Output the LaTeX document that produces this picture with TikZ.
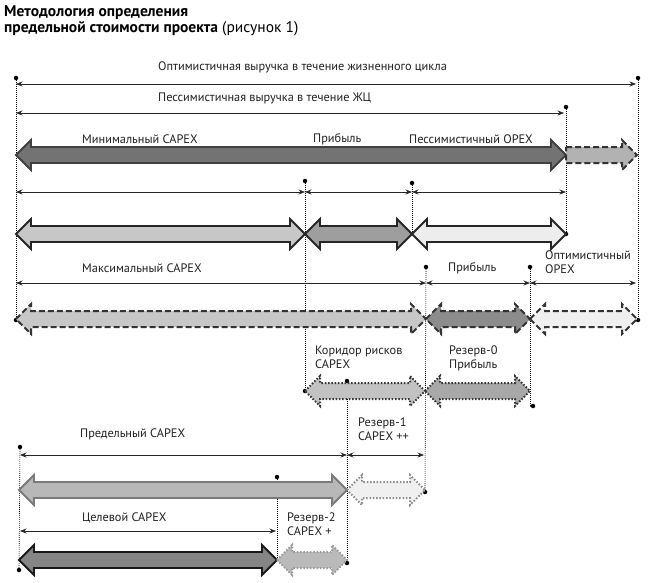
\documentclass[tikz,border=0pt]{standalone}
\usepackage{fontspec}
\setmainfont{PT Sans}
\usetikzlibrary{arrows.meta}
\newcommand\ahl{15}
\newcommand\ahh{15}
\newcommand\ash{8}
\newcommand\fatdbl[4]{\draw[#1] (#2,#4) -- ({#2+\ahl},{#4-\ahh}) -- ({#2+\ahl},{#4-\ash}) -- ({#3-\ahl},{#4-\ash}) -- ({#3-\ahl},{#4-\ahh}) -- (#3,#4) -- ({#3-\ahl},{#4+\ahh}) -- ({#3-\ahl},{#4+\ash}) -- ({#2+\ahl},{#4+\ash}) -- ({#2+\ahl},{#4+\ahh}) -- cycle;}
\newcommand\fatsgl[4]{\draw[#1] (#2,{#4-\ash}) -- ({#3-\ahl},{#4-\ash}) -- ({#3-\ahl},{#4-\ahh}) -- (#3,#4) -- ({#3-\ahl},{#4+\ahh}) -- ({#3-\ahl},{#4+\ash}) -- (#2,{#4+\ash}) -- cycle;}
\definecolor{txt}{HTML}{222222}
\tikzset{
  lbl/.style={font=\fontsize{12.3}{14}\selectfont, text=txt, inner sep=0pt, anchor=west},
  lbl2/.style={font=\fontsize{12.3}{14}\selectfont, text=txt, inner sep=0pt, anchor=north west, align=left},
  dim/.style={line width=0.7pt, black!85, {Stealth[length=6.5pt,width=5pt]}-{Stealth[length=6.5pt,width=5pt]}},
  guide/.style={line width=0.6pt, black, dash pattern=on 1pt off 1pt},
  dot/.style={circle, fill=black, inner sep=0pt, minimum size=4.5pt},
  solidarr/.style={line width=1.8pt, draw=#1, line join=miter},
  dasharr/.style={line width=2pt, draw=black!80, dash pattern=on 6pt off 3pt, line join=miter},
  dotarr/.style={line width=2pt, draw=#1, dash pattern=on 1.5pt off 1.8pt, line join=miter},
}
\begin{document}
\begin{tikzpicture}[x=1pt,y=-1pt]
\useasboundingbox[fill=white] (0,0) rectangle (650,582);
% title
\node[anchor=base west, inner sep=0pt, font=\fontsize{15.5}{18}\selectfont\bfseries, text=black] (t1) at (4,16) {Методология определения};
\node[anchor=base west, inner sep=0pt, font=\fontsize{15.5}{18}\selectfont, text=black] (t2) at (4,32) {\textbf{предельной стоимости проекта} (рисунок 1)};

% points
\node[dot] (dL0) at (16,78) {};
\node[dot] (dR0) at (638,78) {};
\node[dot] (dP) at (566,107) {};
\node[dot] (d305) at (305,181) {};
\node[dot] (d412) at (412,183) {};
\node[dot] (d566) at (566,234) {};
\node[dot] (d425) at (426,267) {};
\node[dot] (d530) at (530,267) {};
\node[dot] (dL3) at (16,320) {};
\node[dot] (dR3) at (638,320) {};
\node[dot] (d305b) at (305,391) {};
\node[dot] (d347) at (347,381) {};
\node[dot] (d530b) at (533,406) {};
\node[dot] (d19) at (20,447) {};
\node[dot] (d277) at (277,477) {};
\node[dot] (d425b) at (425,492) {};
\node[dot] (d347b) at (347,563) {};
\node[dot] (d19b) at (19,570) {};
\coordinate (c412) at (412,234);
\coordinate (c530) at (530,406);
\coordinate (c277) at (277,560);

% guides
\draw[guide] (dL0.center) -- (dL3.center);
\draw[guide] (dR0.center) -- (dR3.center);
\draw[guide] (dP.center) -- (d566.center);
\draw[guide] (d305.center) -- (d305b.center);
\draw[guide] (d412.center) -- (c412);
\draw[guide] (d425.center) -- (d425b.center);
\draw[guide] (d530.center) -- (c530) -- (d530b.center);
\draw[guide] (d347.center) -- (d347b.center);
\draw[guide] (d19.center) -- (d19b.center);
\draw[guide] (d277.center) -- (c277);

% row 0 revenue
\node[lbl] (lopt) at (158,67) {Оптимистичная выручка в течение жизненного цикла};
\draw[dim] (16,84) -- (636,84);
\node[lbl] (lpes) at (158,98) {Пессимистичная выручка в течение ЖЦ};
\draw[dim] (16,113) -- (564,113);

% row 1
\node[lbl] (l1a) at (82,139) {Минимальный CAPEX};
\node[lbl] (l1b) at (313,139) {Прибыль};
\node[lbl] (l1c) at (409,139) {Пессимистичный OPEX};
\fatdbl{solidarr=black!75, fill=black!55}{16}{566}{155}
\fatsgl{dasharr, fill=black!30}{566}{637}{155}

% row 2
\draw[dim] (16,192) -- (305,192);
\draw[dim] (305,192) -- (412,192);
\draw[dim] (412,192) -- (566,192);
\fatdbl{solidarr=black!85, fill=black!22}{16}{305}{234}
\fatdbl{solidarr=black!85, fill=black!38}{305}{412}{234}
\fatdbl{solidarr=black!85, fill=black!7}{412}{566}{234}

% row 3
\node[lbl] (l3a) at (82,268) {Максимальный CAPEX};
\node[lbl] (l3b) at (448,268) {Прибыль};
\node[lbl2] (l3c) at (545,251) {Оптимистичный\\OPEX};
\draw[dim] (16,283) -- (426,283);
\draw[dim] (426,283) -- (530,283);
\draw[dim] (530,283) -- (636,283);
\fatdbl{dasharr, fill=black!22}{16}{426}{319}
\fatdbl{dasharr, fill=black!45}{426}{530}{319}
\fatdbl{dasharr, fill=black!6}{530}{637}{319}

% row 4
\node[lbl2] (l4a) at (315,346) {Коридор рисков\\CAPEX};
\node[lbl2] (l4b) at (449,346) {Резерв-0\\Прибыль};
\fatdbl{dotarr=black!80, fill=black!24}{305}{425}{391}
\fatdbl{dotarr=black!80, fill=black!34}{425}{530}{391}

% row 5
\node[lbl] (l5a) at (80,434) {Предельный CAPEX};
\node[lbl2] (l5b) at (358,418) {Резерв-1\\CAPEX ++};
\draw[dim] (20,455) -- (347,455);
\draw[dim] (347,455) -- (424,455);
\fatdbl{solidarr=black!52, fill=black!28}{19}{347}{490}
\fatdbl{dotarr=black!45, fill=black!6}{347}{425}{490}

% row 6
\node[lbl] (l6a) at (82,518) {Целевой CAPEX};
\node[lbl2] (l6b) at (287,513) {Резерв-2\\CAPEX +};
\draw[dim] (20,531) -- (276,531);
\fatdbl{solidarr=black!90, fill=black!48}{19}{277}{560}
\fatdbl{dotarr=black!40, fill=black!27}{277}{347}{560}
\end{tikzpicture}
\end{document}
